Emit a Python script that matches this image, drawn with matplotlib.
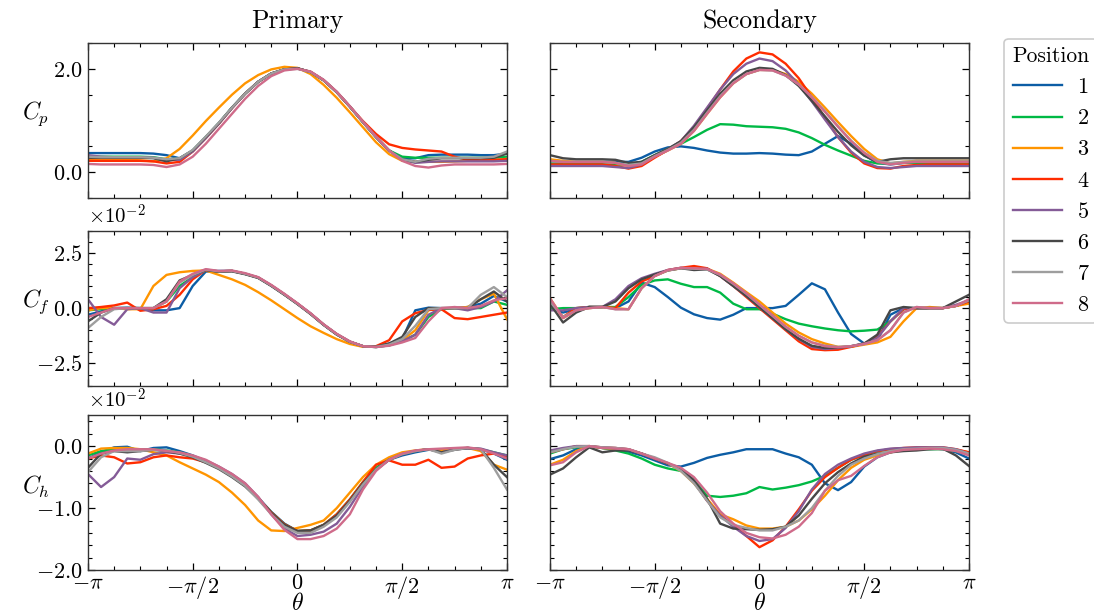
import numpy as np
import matplotlib
matplotlib.use("Agg")
import matplotlib.pyplot as plt
from matplotlib.ticker import MultipleLocator, FuncFormatter, FixedLocator

plt.rcParams['font.family'] = 'serif'
plt.rcParams['font.serif'] = ['cmr10', 'DejaVu Serif']
plt.rcParams['mathtext.fontset'] = 'cm'
plt.rcParams['axes.formatter.use_mathtext'] = True

# sample angles for every curve (33 points, step pi/16)
theta = np.linspace(-np.pi, np.pi, 33)

positions = ['1', '2', '3', '4', '5', '6', '7', '8']
colors = ['#0C5DA5', '#00B945', '#FF9500', '#FF2C00', '#845B97', '#474747', '#9e9e9e', '#cf6b8a']

# ---- pressure coefficient Cp ----
cp_primary = [
    [0.37,0.37,0.37,0.37,0.37,0.36,0.33,0.27,0.42,0.68,0.95,1.25,1.52,1.75,1.91,1.99,2.01,1.94,1.78,1.55,1.27,0.97,0.68,0.42,0.26,0.27,0.33,0.34,0.34,0.34,0.33,0.33,0.36],
    [0.3,0.3,0.3,0.3,0.3,0.29,0.25,0.26,0.42,0.68,0.95,1.25,1.52,1.75,1.91,1.99,2.01,1.94,1.78,1.55,1.27,0.97,0.68,0.42,0.3,0.28,0.28,0.28,0.28,0.28,0.28,0.28,0.3],
    [0.25,0.25,0.25,0.24,0.23,0.21,0.27,0.45,0.71,0.99,1.25,1.5,1.72,1.88,1.99,2.04,2.02,1.9,1.69,1.44,1.16,0.87,0.58,0.35,0.22,0.2,0.2,0.2,0.21,0.22,0.22,0.23,0.26],
    [0.22,0.22,0.22,0.22,0.22,0.21,0.17,0.2,0.4,0.66,0.94,1.24,1.52,1.75,1.91,1.99,2.01,1.94,1.78,1.55,1.27,0.99,0.74,0.54,0.47,0.44,0.42,0.4,0.3,0.24,0.23,0.24,0.25],
    [0.33,0.3,0.29,0.29,0.29,0.28,0.24,0.24,0.4,0.66,0.94,1.24,1.52,1.75,1.91,1.99,2.01,1.94,1.78,1.55,1.27,0.97,0.68,0.42,0.24,0.18,0.2,0.21,0.21,0.21,0.21,0.21,0.22],
    [0.28,0.28,0.28,0.28,0.28,0.27,0.21,0.27,0.42,0.68,0.95,1.25,1.52,1.75,1.91,1.99,2.01,1.94,1.78,1.55,1.27,0.97,0.68,0.42,0.25,0.2,0.24,0.27,0.27,0.27,0.27,0.28,0.36],
    [0.3,0.29,0.29,0.29,0.29,0.28,0.25,0.27,0.43,0.69,0.96,1.25,1.52,1.75,1.91,1.99,2.0,1.94,1.78,1.55,1.27,0.97,0.68,0.42,0.25,0.2,0.26,0.28,0.28,0.28,0.28,0.3,0.4],
    [0.16,0.15,0.15,0.15,0.15,0.14,0.1,0.15,0.3,0.55,0.84,1.13,1.42,1.67,1.86,1.97,2.0,1.95,1.79,1.56,1.28,0.98,0.69,0.42,0.22,0.12,0.09,0.13,0.15,0.15,0.15,0.15,0.16],
]
cp_secondary = [
    [0.22,0.2,0.2,0.2,0.2,0.2,0.2,0.28,0.4,0.48,0.5,0.47,0.42,0.38,0.36,0.36,0.37,0.36,0.34,0.33,0.4,0.55,0.7,0.55,0.33,0.18,0.15,0.18,0.2,0.2,0.2,0.2,0.2],
    [0.17,0.16,0.16,0.16,0.16,0.15,0.14,0.2,0.33,0.45,0.55,0.68,0.82,0.93,0.92,0.89,0.88,0.87,0.84,0.77,0.66,0.53,0.42,0.32,0.22,0.17,0.17,0.18,0.18,0.18,0.18,0.18,0.18],
    [0.25,0.22,0.2,0.2,0.2,0.18,0.12,0.15,0.3,0.42,0.55,0.8,1.13,1.45,1.72,1.9,1.98,1.98,1.9,1.75,1.52,1.25,0.97,0.7,0.45,0.25,0.17,0.2,0.22,0.22,0.22,0.22,0.22],
    [0.15,0.15,0.15,0.15,0.15,0.12,0.07,0.12,0.28,0.43,0.6,0.88,1.23,1.6,1.95,2.2,2.32,2.28,2.1,1.82,1.45,1.05,0.68,0.38,0.17,0.08,0.07,0.12,0.14,0.15,0.15,0.15,0.15],
    [0.12,0.12,0.12,0.12,0.12,0.1,0.08,0.15,0.32,0.45,0.6,0.9,1.25,1.6,1.9,2.1,2.2,2.15,1.97,1.7,1.37,1.02,0.68,0.4,0.2,0.1,0.08,0.1,0.12,0.12,0.12,0.12,0.12],
    [0.33,0.27,0.25,0.25,0.25,0.24,0.18,0.2,0.33,0.45,0.6,0.87,1.2,1.52,1.78,1.95,2.02,2.0,1.88,1.67,1.38,1.08,0.78,0.52,0.32,0.2,0.25,0.27,0.27,0.27,0.27,0.27,0.27],
    [0.22,0.2,0.2,0.2,0.2,0.18,0.14,0.17,0.31,0.43,0.57,0.82,1.15,1.47,1.73,1.9,1.98,1.97,1.87,1.7,1.46,1.18,0.89,0.61,0.38,0.22,0.18,0.2,0.21,0.21,0.21,0.21,0.21],
    [0.22,0.2,0.2,0.2,0.2,0.18,0.12,0.15,0.3,0.42,0.55,0.8,1.13,1.45,1.72,1.9,1.98,1.97,1.87,1.7,1.45,1.17,0.88,0.6,0.37,0.2,0.15,0.18,0.2,0.2,0.2,0.2,0.2],
]

# ---- skin friction Cf (in units of 1e-2) ----
cf_primary = [
    [-0.3,-0.15,0.0,0.02,0.0,-0.1,-0.1,0.0,1.0,1.65,1.68,1.68,1.55,1.38,1.02,0.62,0.2,-0.25,-0.75,-1.18,-1.52,-1.72,-1.75,-1.6,-1.4,-0.1,0.02,0.0,0.0,0.05,0.2,0.55,0.3],
    [-0.1,-0.05,0.0,0.0,0.0,0.0,0.3,1.0,1.4,1.7,1.66,1.68,1.55,1.38,1.02,0.62,0.2,-0.25,-0.75,-1.18,-1.52,-1.72,-1.76,-1.68,-1.5,-1.2,-0.4,-0.05,0.0,0.0,0.0,0.3,0.15],
    [-0.1,0.0,0.0,-0.05,-0.05,1.0,1.5,1.62,1.68,1.7,1.5,1.3,1.05,0.72,0.35,-0.05,-0.45,-0.82,-1.12,-1.4,-1.62,-1.75,-1.72,-1.68,-1.45,-1.0,-0.1,0.0,0.0,0.05,0.4,0.65,-0.5],
    [0.0,0.05,0.12,0.25,-0.12,-0.05,0.1,0.6,1.3,1.72,1.66,1.68,1.55,1.38,1.02,0.62,0.2,-0.25,-0.75,-1.18,-1.52,-1.72,-1.72,-1.45,-0.6,-0.23,-0.08,-0.05,-0.45,-0.5,-0.4,-0.3,-0.2],
    [0.4,-0.4,-0.75,-0.05,0.0,-0.2,-0.2,0.9,1.4,1.72,1.66,1.68,1.55,1.38,1.02,0.62,0.2,-0.25,-0.75,-1.18,-1.52,-1.72,-1.76,-1.68,-1.5,-1.2,-0.3,0.0,0.0,-0.1,0.05,0.3,0.8],
    [-0.6,-0.2,0.0,0.0,0.0,0.0,0.4,1.25,1.5,1.72,1.64,1.66,1.53,1.36,1.0,0.6,0.18,-0.27,-0.76,-1.2,-1.52,-1.72,-1.74,-1.6,-1.3,-0.4,0.0,0.0,0.0,0.0,0.4,0.75,0.3],
    [-0.9,-0.4,-0.05,0.0,0.0,0.0,0.3,1.15,1.5,1.74,1.66,1.68,1.55,1.38,1.02,0.62,0.2,-0.25,-0.75,-1.18,-1.52,-1.72,-1.75,-1.65,-1.4,-0.8,-0.05,0.0,0.0,0.0,0.6,0.95,0.5],
    [-0.4,-0.2,0.0,0.0,0.0,0.0,0.3,1.2,1.55,1.76,1.68,1.7,1.58,1.4,1.05,0.65,0.22,-0.23,-0.73,-1.16,-1.5,-1.72,-1.76,-1.7,-1.55,-1.35,-0.6,0.0,0.05,0.0,0.1,0.35,0.45],
]
cf_secondary = [
    [0.0,-0.2,-0.05,0.05,0.05,0.0,0.3,1.15,0.95,0.5,0.02,-0.28,-0.45,-0.52,-0.3,0.0,0.0,0.0,0.1,0.6,1.12,0.85,-0.2,-1.17,-1.6,-1.45,-0.3,0.0,0.0,0.0,0.0,0.1,0.3],
    [-0.05,0.0,0.0,0.05,0.05,0.05,0.5,1.05,1.25,1.3,1.1,0.95,0.95,0.7,0.2,-0.05,-0.05,-0.25,-0.5,-0.7,-0.82,-0.92,-1.0,-1.05,-1.02,-0.97,-0.6,-0.05,0.0,0.0,0.0,0.1,0.3],
    [0.45,-0.45,-0.1,0.0,0.05,0.0,-0.05,0.9,1.45,1.7,1.8,1.78,1.78,1.55,1.15,0.72,0.3,-0.2,-0.7,-1.1,-1.4,-1.6,-1.75,-1.75,-1.65,-1.55,-1.3,-0.6,0.0,0.05,0.0,0.1,0.2],
    [0.3,-0.4,0.0,0.05,0.05,0.0,0.7,1.2,1.45,1.72,1.82,1.9,1.8,1.45,1.0,0.5,0.0,-0.5,-1.0,-1.5,-1.85,-1.9,-1.88,-1.75,-1.6,-1.3,-0.6,-0.05,0.0,0.0,0.0,0.1,0.3],
    [-0.1,-0.1,0.0,0.05,0.05,0.4,1.0,1.35,1.55,1.72,1.82,1.75,1.78,1.45,1.0,0.55,0.05,-0.45,-0.95,-1.4,-1.75,-1.85,-1.8,-1.72,-1.6,-1.35,-0.6,0.0,0.0,0.0,0.0,0.15,0.35],
    [0.2,-0.65,-0.2,0.05,0.05,0.3,0.9,1.3,1.52,1.7,1.8,1.72,1.75,1.45,1.0,0.55,0.05,-0.45,-0.95,-1.38,-1.7,-1.8,-1.78,-1.72,-1.6,-1.2,-0.1,0.05,0.0,0.0,0.0,0.3,0.6],
    [0.3,-0.4,-0.1,0.0,0.05,-0.05,-0.05,0.9,1.45,1.7,1.8,1.78,1.75,1.5,1.1,0.65,0.15,-0.35,-0.85,-1.25,-1.55,-1.7,-1.75,-1.72,-1.62,-1.45,-1.0,-0.2,0.05,0.0,0.0,0.1,0.35],
    [0.45,-0.45,-0.1,0.0,0.05,-0.05,-0.05,0.9,1.45,1.72,1.82,1.8,1.77,1.52,1.12,0.67,0.17,-0.33,-0.83,-1.25,-1.55,-1.72,-1.77,-1.72,-1.62,-1.45,-1.0,-0.2,0.05,0.0,0.0,0.1,0.4],
]

# ---- heat transfer Ch (in units of 1e-2) ----
ch_primary = [
    [-0.2,-0.1,-0.02,-0.01,-0.08,-0.03,-0.02,-0.08,-0.15,-0.24,-0.34,-0.47,-0.62,-0.83,-1.06,-1.25,-1.37,-1.37,-1.28,-1.13,-0.88,-0.6,-0.37,-0.22,-0.15,-0.1,-0.06,-0.06,-0.05,-0.03,-0.05,-0.12,-0.22],
    [-0.15,-0.08,-0.05,-0.05,-0.05,-0.05,-0.07,-0.1,-0.16,-0.25,-0.35,-0.48,-0.63,-0.84,-1.07,-1.26,-1.37,-1.36,-1.27,-1.1,-0.86,-0.58,-0.35,-0.2,-0.12,-0.08,-0.05,-0.05,-0.04,-0.03,-0.05,-0.1,-0.15],
    [-0.12,-0.04,-0.03,-0.03,-0.05,-0.1,-0.15,-0.26,-0.36,-0.46,-0.58,-0.75,-0.95,-1.2,-1.36,-1.37,-1.32,-1.27,-1.2,-1.0,-0.75,-0.5,-0.3,-0.18,-0.1,-0.07,-0.05,-0.06,-0.05,-0.03,-0.08,-0.3,-0.38],
    [-0.2,-0.15,-0.18,-0.28,-0.26,-0.18,-0.15,-0.18,-0.2,-0.26,-0.35,-0.48,-0.63,-0.84,-1.07,-1.26,-1.37,-1.36,-1.27,-1.1,-0.86,-0.58,-0.3,-0.23,-0.3,-0.3,-0.22,-0.35,-0.33,-0.2,-0.15,-0.12,-0.17],
    [-0.45,-0.66,-0.5,-0.2,-0.22,-0.13,-0.1,-0.12,-0.16,-0.23,-0.33,-0.45,-0.6,-0.82,-1.1,-1.33,-1.45,-1.43,-1.38,-1.25,-0.98,-0.65,-0.38,-0.22,-0.13,-0.08,-0.05,-0.1,-0.05,-0.04,-0.04,-0.1,-0.15],
    [-0.35,-0.12,-0.08,-0.1,-0.08,-0.06,-0.08,-0.12,-0.18,-0.27,-0.37,-0.5,-0.65,-0.85,-1.08,-1.27,-1.37,-1.36,-1.27,-1.12,-0.88,-0.6,-0.38,-0.22,-0.13,-0.08,-0.05,-0.1,-0.06,-0.03,-0.05,-0.3,-0.5],
    [-0.42,-0.18,-0.08,-0.08,-0.08,-0.06,-0.07,-0.11,-0.17,-0.26,-0.36,-0.49,-0.64,-0.86,-1.1,-1.3,-1.4,-1.4,-1.3,-1.15,-0.9,-0.62,-0.38,-0.22,-0.13,-0.08,-0.05,-0.12,-0.06,-0.03,-0.05,-0.35,-0.7],
    [-0.2,-0.12,-0.07,-0.05,-0.05,-0.05,-0.08,-0.1,-0.15,-0.22,-0.33,-0.45,-0.6,-0.82,-1.1,-1.35,-1.5,-1.5,-1.45,-1.33,-1.1,-0.7,-0.4,-0.22,-0.12,-0.07,-0.05,-0.04,-0.03,-0.02,-0.05,-0.12,-0.2],
]
ch_secondary = [
    [-0.21,-0.15,-0.05,0.0,-0.03,-0.05,-0.09,-0.15,-0.23,-0.31,-0.33,-0.27,-0.19,-0.14,-0.1,-0.05,-0.05,-0.05,-0.12,-0.18,-0.3,-0.6,-0.71,-0.58,-0.33,-0.18,-0.1,-0.05,-0.03,-0.03,-0.05,-0.1,-0.2],
    [-0.12,-0.05,-0.02,0.0,-0.03,-0.07,-0.12,-0.2,-0.3,-0.36,-0.4,-0.55,-0.8,-0.82,-0.8,-0.76,-0.66,-0.7,-0.67,-0.63,-0.57,-0.48,-0.35,-0.22,-0.14,-0.08,-0.05,-0.04,-0.04,-0.05,-0.05,-0.08,-0.13],
    [-0.3,-0.22,-0.08,0.0,-0.03,-0.04,-0.06,-0.12,-0.2,-0.28,-0.4,-0.6,-0.85,-1.1,-1.18,-1.28,-1.33,-1.33,-1.3,-1.2,-1.02,-0.8,-0.55,-0.35,-0.22,-0.15,-0.1,-0.06,-0.04,-0.04,-0.04,-0.06,-0.1],
    [-0.1,-0.05,0.0,0.0,-0.02,-0.03,-0.05,-0.12,-0.2,-0.28,-0.38,-0.58,-0.88,-1.12,-1.27,-1.45,-1.63,-1.52,-1.3,-1.02,-0.72,-0.5,-0.35,-0.22,-0.14,-0.08,-0.05,-0.03,-0.02,-0.02,-0.02,-0.05,-0.1],
    [-0.07,-0.03,0.0,0.0,-0.02,-0.03,-0.05,-0.12,-0.2,-0.28,-0.38,-0.58,-0.88,-1.12,-1.3,-1.45,-1.53,-1.5,-1.32,-1.05,-0.7,-0.45,-0.3,-0.2,-0.12,-0.07,-0.04,-0.03,-0.02,-0.02,-0.02,-0.05,-0.12],
    [-0.46,-0.36,-0.18,-0.02,-0.1,-0.07,-0.07,-0.12,-0.2,-0.28,-0.36,-0.55,-0.85,-1.25,-1.33,-1.34,-1.35,-1.34,-1.3,-1.12,-0.85,-0.6,-0.42,-0.28,-0.17,-0.12,-0.1,-0.08,-0.07,-0.05,-0.04,-0.15,-0.32],
    [-0.1,-0.05,-0.01,0.0,-0.02,-0.03,-0.05,-0.12,-0.18,-0.27,-0.4,-0.6,-0.88,-1.15,-1.27,-1.32,-1.36,-1.36,-1.3,-1.2,-1.0,-0.72,-0.48,-0.3,-0.2,-0.13,-0.08,-0.05,-0.04,-0.03,-0.03,-0.06,-0.12],
    [-0.31,-0.26,-0.1,0.0,-0.03,-0.04,-0.05,-0.12,-0.2,-0.27,-0.35,-0.5,-0.75,-1.05,-1.25,-1.4,-1.47,-1.49,-1.43,-1.3,-1.08,-0.72,-0.55,-0.48,-0.32,-0.18,-0.1,-0.06,-0.05,-0.04,-0.05,-0.08,-0.15],
]

col_titles = ['Primary', 'Secondary']
row_labels = [r'$C_p$', r'$C_f$', r'$C_h$']
xtick_vals = [-np.pi, -np.pi / 2, 0, np.pi / 2, np.pi]
xtick_labels = [r'$-\pi$', r'$-\pi/2$', r'$0$', r'$\pi/2$', r'$\pi$']

panels = [[cp_primary, cp_secondary], [cf_primary, cf_secondary], [ch_primary, ch_secondary]]
scales = [1.0, 1e-2, 1e-2]
ylims = [(-0.5, 2.5), (-3.5e-2, 3.5e-2), (-2.0e-2, 0.5e-2)]
ymajor = [2.0, 2.5e-2, 1.0e-2]
yminor = [0.5, 0.5e-2, 0.2e-2]

fig = plt.figure(figsize=(10.94, 6.15), dpi=100)
lefts = [0.0804, 0.5027]
bottoms = [0.678, 0.373, 0.073]
w, h = 0.383, 0.252

for r in range(3):
    for c in range(2):
        ax = fig.add_axes([lefts[c], bottoms[r], w, h])
        for i, ys in enumerate(panels[r][c]):
            ax.plot(theta, np.array(ys) * scales[r], color=colors[i], lw=1.7, label=positions[i])
        ax.set_xlim(-np.pi, np.pi)
        ax.set_ylim(*ylims[r])
        ax.xaxis.set_major_locator(FixedLocator(xtick_vals))
        ax.xaxis.set_minor_locator(MultipleLocator(np.pi / 8))
        ax.yaxis.set_major_locator(MultipleLocator(ymajor[r]))
        ax.yaxis.set_minor_locator(MultipleLocator(yminor[r]))
        ax.tick_params(which='both', direction='in', top=True, right=True, labelsize=16)
        ax.tick_params(which='major', length=5, width=0.9, pad=4)
        ax.tick_params(which='minor', length=2.8, width=0.8)
        ax.tick_params(axis='x', which='major', pad=2.5)
        for s in ax.spines.values():
            s.set_linewidth(1.0)
            s.set_color('#333333')
        if r == 2:
            ax.set_xticklabels(xtick_labels)
            ax.set_xlabel(r'$\theta$', fontsize=17, labelpad=-5.5)
        else:
            ax.set_xticklabels([])
        if c == 0:
            sc = scales[r]
            ax.yaxis.set_major_formatter(FuncFormatter(lambda v, p, sc=sc: r'$%.1f$' % (v / sc + 0.0)))
            ax.set_ylabel(row_labels[r], fontsize=17, rotation=0, va='bottom', ha='center')
            ax.yaxis.set_label_coords(-0.125, 0.45)
            if r > 0:
                ax.text(0.0, 1.02, r'$\times10^{-2}$', transform=ax.transAxes, fontsize=15,
                        ha='left', va='bottom')
        else:
            ax.set_yticklabels([])
        if r == 0:
            ax.set_title(col_titles[c], fontsize=18.5, pad=11)
        if r == 0 and c == 1:
            handles, labels = ax.get_legend_handles_labels()

leg = fig.legend(handles, labels, title='Position', loc='upper left',
                 bbox_to_anchor=(0.908, 0.955), fontsize=16, title_fontsize=15.5,
                 handlelength=2.2, labelspacing=0.52, handletextpad=0.7,
                 borderpad=0.35, fancybox=True, framealpha=1.0, edgecolor='#cccccc')
leg.get_frame().set_linewidth(1.2)

fig.savefig('out.png', dpi=100)
